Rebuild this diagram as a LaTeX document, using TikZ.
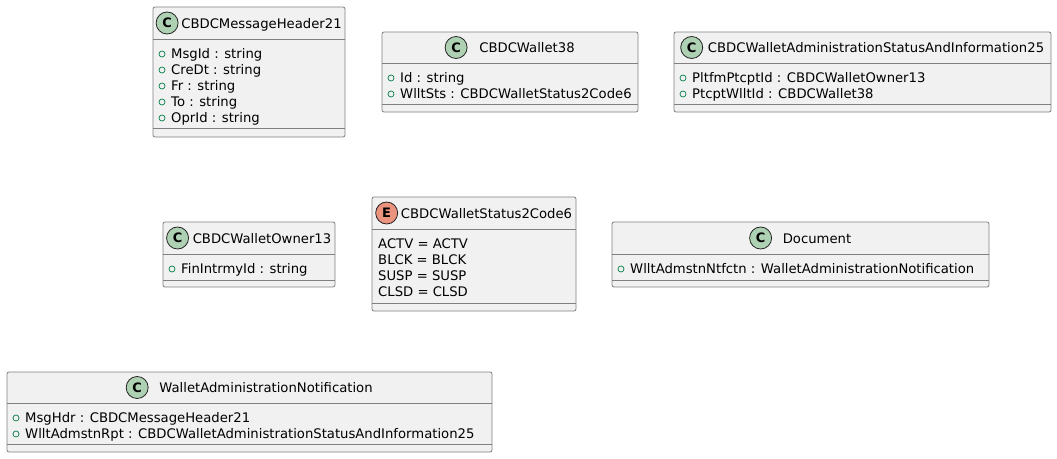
\documentclass[tikz,border=0pt]{standalone}
\usepackage{fontspec}
\setmainfont{DejaVu Sans}
\definecolor{boxfill}{HTML}{F1F1F1}
\definecolor{boxline}{HTML}{808080}
\definecolor{cfill}{HTML}{ADD1B2}
\definecolor{efill}{HTML}{EB937F}
\definecolor{visgreen}{HTML}{038048}
\definecolor{iconline}{HTML}{222222}
\tikzset{
  umlbox/.style={draw=boxline, fill=boxfill, line width=0.8pt, rounded corners=2pt},
  sepline/.style={draw=boxline, line width=0.8pt},
  title/.style={font=\fontsize{13.2}{16}\selectfont, inner sep=0pt, anchor=base},
  attr/.style={font=\fontsize{13.2}{16}\selectfont, inner sep=0pt, anchor=base west},
  vis/.style={draw=visgreen, line width=0.7pt, circle, minimum size=6pt, inner sep=0pt},
  cicon/.style={circle, draw=iconline, line width=0.8pt, fill=cfill, minimum size=22pt, inner sep=0pt, font=\bfseries\fontsize{13}{13}\selectfont},
  eicon/.style={cicon, fill=efill},
}
\newcommand\umlframe[6]{%
  \path[umlbox] (#1,#2) rectangle (#3,#6);
  \path[sepline] (#1,#4) -- (#3,#4);
  \path[sepline] (#1,#5) -- (#3,#5);
}
\newcommand\umltitle[9]{%
  \pgfmathsetmacro\tcx{(#2+#3)/2+(22+#6)/2}%
  \pgfmathsetmacro\tcy{(#4+#5)/2+5}%
  \node[title] (#1) at (\tcx,\tcy) {#9};
  \path (#1.base west) ++(-#6-11,-5) node[#7] (#1-icon) {#8};
}
\newcommand\umlattr[4]{%
  \node[vis] (#1-v) at (#2+9,#3+1) {};
  \node[attr] (#1) at (#2+18,#3+5) {#4};
}
\newcommand\umlenumval[4]{%
  \node[attr] (#1) at (#2+6,#3+5) {#4};
}
\begin{document}
\begin{tikzpicture}[x=1pt,y=-1pt]
\useasboundingbox[fill=white] (0,0) rectangle (1057,458);

% CBDCMessageHeader21
\umlframe{153}{7}{345}{39}{128}{137}
\umltitle{t1}{153}{345}{7}{39}{3}{cicon}{C}{CBDCMessageHeader21}
\umlattr{a11}{153}{53}{MsgId : string}
\umlattr{a12}{153}{69}{CreDt : string}
\umlattr{a13}{153}{85}{Fr : string}
\umlattr{a14}{153}{101}{To : string}
\umlattr{a15}{153}{117}{OprId : string}

% CBDCWallet38
\umlframe{382}{32}{638}{63}{104}{112}
\umltitle{t2}{382}{638}{32}{63}{12}{cicon}{C}{CBDCWallet38}
\umlattr{a21}{382}{77}{Id : string}
\umlattr{a22}{382}{93}{WlltSts : CBDCWalletStatus2Code6}

% CBDCWalletAdministrationStatusAndInformation25
\umlframe{674}{32}{1051}{63}{104}{112}
\umltitle{t3}{674}{1051}{32}{63}{5}{cicon}{C}{CBDCWalletAdministrationStatusAndInformation25}
\umlattr{a31}{674}{77}{PltfmPtcptId : CBDCWalletOwner13}
\umlattr{a32}{674}{93}{PtcptWlltId : CBDCWallet38}

% CBDCWalletOwner13
\umlframe{163}{222}{335}{254}{280}{287}
\umltitle{t4}{163}{335}{222}{254}{4}{cicon}{C}{CBDCWalletOwner13}
\umlattr{a41}{163}{268}{FinIntrmyId : string}

% CBDCWalletStatus2Code6
\umlframe{372}{197}{576}{229}{303}{311}
\umltitle{t5}{372}{576}{197}{229}{3}{eicon}{E}{CBDCWalletStatus2Code6}
\umlenumval{e51}{372}{243}{ACTV = ACTV}
\umlenumval{e52}{372}{259}{BLCK = BLCK}
\umlenumval{e53}{372}{275}{SUSP = SUSP}
\umlenumval{e54}{372}{291}{CLSD = CLSD}

% Document
\umlframe{612}{222}{989}{254}{280}{287}
\umltitle{t6}{612}{989}{222}{254}{11}{cicon}{C}{Document}
\umlattr{a61}{612}{268}{WlltAdmstnNtfctn : WalletAdministrationNotification}

% WalletAdministrationNotification
\umlframe{7}{372}{492}{403}{444}{452}
\umltitle{t7}{7}{492}{372}{403}{11}{cicon}{C}{WalletAdministrationNotification}
\umlattr{a71}{7}{417}{MsgHdr : CBDCMessageHeader21}
\umlattr{a72}{7}{433}{WlltAdmstnRpt : CBDCWalletAdministrationStatusAndInformation25}
\end{tikzpicture}
\end{document}
